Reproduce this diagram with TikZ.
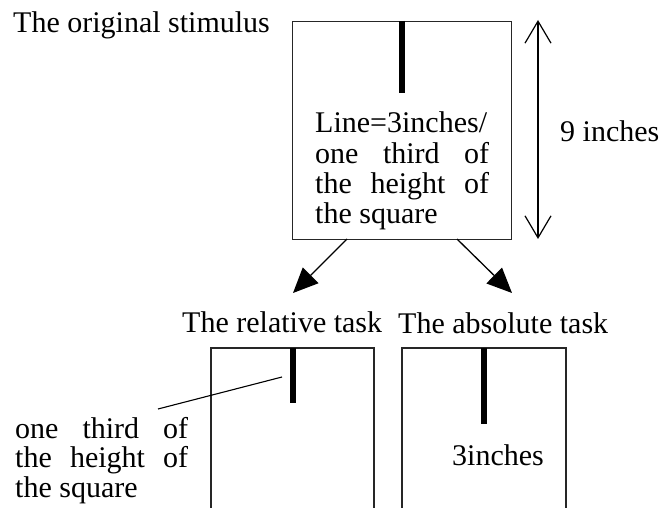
\documentclass[tikz,border=0pt]{standalone}
\usepackage{fontspec}
\setmainfont{Liberation Serif}
\usetikzlibrary{arrows.meta}
\begin{document}
\begin{tikzpicture}[x=1pt,y=-1pt,
  txt/.style={anchor=base west,inner sep=0pt,font=\fontsize{30}{30}\selectfont},
  frame/.style={draw=black!85,line width=1.4pt},
  bar/.style={line width=6pt},
  flow/.style={line width=1.3pt,-{Triangle[length=25pt,width=22pt]}},
  dim/.style={line width=1.2pt,{Straight Barb[length=22pt,width=26pt]}-{Straight Barb[length=22pt,width=26pt]}}]
\useasboundingbox (0,0) rectangle (662,508);
% main square
\node[frame,anchor=north west,minimum width=219pt,minimum height=218pt,inner sep=0pt] (orig) at (292,21) {};
\coordinate (b1top) at (402,21);
\coordinate (b1bot) at (402,93);
\draw[bar] (b1top) -- (b1bot);
\node[txt] (t0) at (13,33) {The original stimulus};
\node[txt] (l1) at (315,133) {Line=3inches/};
\node[txt] (l2) at (315,164) {\makebox[174pt][s]{one third of}};
\node[txt] (l3) at (315,194) {\makebox[174pt][s]{the height of}};
\node[txt] (l4) at (315,224) {the square};
% dimension
\coordinate (dtop) at (538,20);
\coordinate (dbot) at (538,239);
\draw[dim] (dtop) -- (dbot);
\node[txt] (nine) at (560,142) {9 inches};
% flow arrows
\coordinate (a1s) at (347,239);
\coordinate (a1e) at (293,293);
\coordinate (a2s) at (457,239);
\coordinate (a2e) at (512,293);
\draw[flow] (a1s) -- (a1e);
\draw[flow] (a2s) -- (a2e);
% headings
\node[txt] (rel) at (182,332) {The relative task};
\node[txt] (abs) at (398,333) {The absolute task};
% relative box
\coordinate (r1) at (211,508);
\coordinate (r2) at (211,348);
\coordinate (r3) at (374,348);
\coordinate (r4) at (374,508);
\draw[frame] (r1) -- (r2) -- (r3) -- (r4);
\coordinate (rbt) at (293,348);
\coordinate (rbb) at (293,403);
\draw[bar] (rbt) -- (rbb);
\coordinate (lead1) at (158,409);
\coordinate (lead2) at (282,377);
\draw[line width=1.1pt] (lead1) -- (lead2);
\node[txt] (m1) at (15,438) {\makebox[173pt][s]{one third of}};
\node[txt] (m2) at (15,467) {\makebox[173pt][s]{the height of}};
\node[txt] (m3) at (15,497) {the square};
% absolute box
\coordinate (s1) at (402,508);
\coordinate (s2) at (402,348);
\coordinate (s3) at (566,348);
\coordinate (s4) at (566,508);
\draw[frame] (s1) -- (s2) -- (s3) -- (s4);
\coordinate (abt) at (484,348);
\coordinate (abb) at (484,424);
\draw[bar] (abt) -- (abb);
\node[txt] (three) at (452,465) {3inches};
\end{tikzpicture}
\end{document}
